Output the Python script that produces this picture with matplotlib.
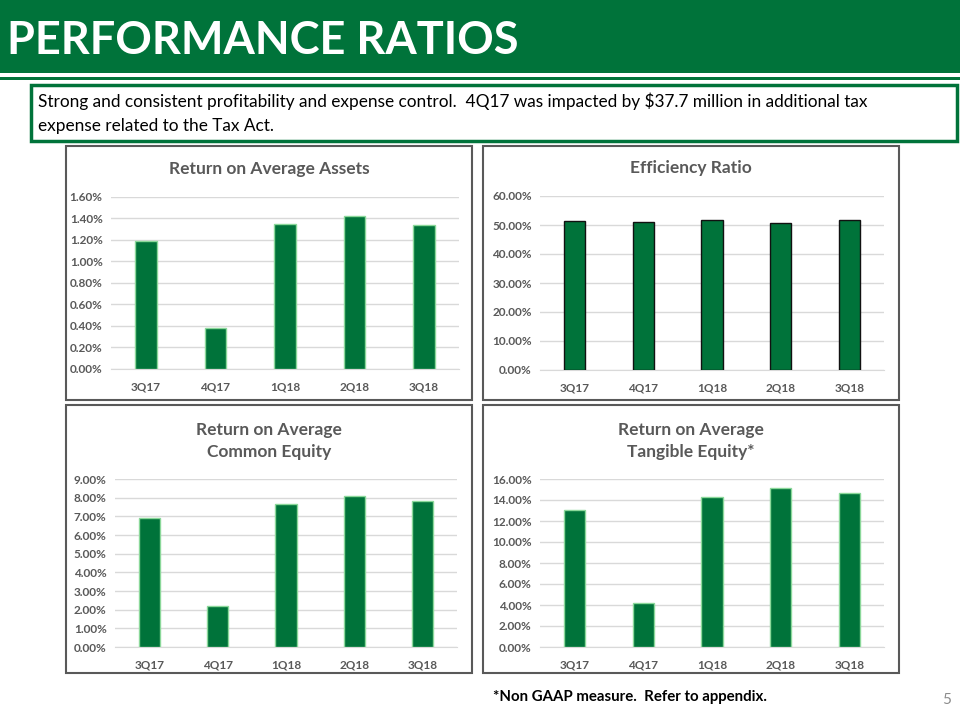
import matplotlib
matplotlib.use("Agg")
import matplotlib.pyplot as plt
from matplotlib.patches import Rectangle
from matplotlib.ticker import FuncFormatter

plt.rcParams['font.family'] = ['Lato', 'DejaVu Sans']

quarters = ["3Q17", "4Q17", "1Q18", "2Q18", "3Q18"]
roa = [1.19, 0.38, 1.35, 1.42, 1.34]
efficiency = [51.3, 51.2, 51.6, 50.6, 51.7]
roe = [6.89, 2.20, 7.68, 8.11, 7.84]
rote = [13.09, 4.18, 14.32, 15.18, 14.70]

GREEN = "#00733A"
GRAY = "#595959"
W, H = 960, 720

fig = plt.figure(figsize=(9.6, 7.2), dpi=100)


def box(l, t, r, b):
    return [l / W, 1 - b / H, (r - l) / W, (b - t) / H]


def frame(l, t, r, b, color, lw, face="none"):
    fig.patches.append(Rectangle((l / W, 1 - b / H), (r - l) / W, (b - t) / H,
                                 transform=fig.transFigure, fill=face != "none",
                                 facecolor=face, edgecolor=color, lw=lw, zorder=0))


# header band
frame(0, 0, 960, 73, "none", 0, face=GREEN)
frame(0, 77, 960, 80, "none", 0, face=GREEN)
fig.text(7 / W, 1 - 41 / H, "PERFORMANCE RATIOS", color="white", fontsize=32.5,
         fontweight="bold", va="center", ha="left")

# summary box
frame(31, 85, 957, 141, GREEN, 2.5)
fig.text(38 / W, 1 - 101 / H,
         "Strong and consistent profitability and expense control.  4Q17 was impacted by $37.7 million in additional tax",
         fontsize=12.4, va="center", ha="left", color="black")
fig.text(38 / W, 1 - 126 / H, "expense related to the Tax Act.",
         fontsize=12.4, va="center", ha="left", color="black")

# panel frames
frame(66, 146, 472, 400, GRAY, 1.5)
frame(483, 146, 899, 400, GRAY, 1.5)
frame(66, 405, 472, 673, GRAY, 1.5)
frame(483, 405, 899, 673, GRAY, 1.5)

panels = [
    (roa, box(111, 197, 459, 369), 1.6, 0.2, 2, "Return on Average Assets", 169, (66, 472), "#8BD89A"),
    (efficiency, box(540, 196, 884, 370), 60, 10, 2, "Efficiency Ratio", 168, (483, 899), "#111111"),
    (roe, box(115, 479, 457, 647), 9, 1, 2, "Return on Average\nCommon Equity", 441, (66, 472), "#8BD89A"),
    (rote, box(540, 479, 884, 647), 16, 2, 2, "Return on Average\nTangible Equity*", 441, (483, 899), "#8BD89A"),
]

for vals, rect, ymax, step, dec, title, ty, (pl, pr), edge in panels:
    ax = fig.add_axes(rect)
    ax.bar(quarters, vals, width=0.31, color=GREEN, edgecolor=edge, lw=1.0, zorder=3)
    ax.set_ylim(0, ymax)
    ax.set_xlim(-0.5, len(quarters) - 0.5)
    ticks = [i * step for i in range(int(round(ymax / step)) + 1)]
    ax.set_yticks(ticks)
    ax.yaxis.set_major_formatter(FuncFormatter(lambda v, p, d=dec: f"{v:.{d}f}%"))
    ax.grid(axis="y", color="#D9D9D9", lw=1.0, zorder=0)
    for s in ["top", "right", "left"]:
        ax.spines[s].set_visible(False)
    ax.spines["bottom"].set_color("#D9D9D9")
    ax.tick_params(axis="both", length=0, labelsize=8.5, labelcolor=GRAY, pad=6)
    ax.tick_params(axis="x", pad=9)
    for lab in ax.get_xticklabels() + ax.get_yticklabels():
        lab.set_fontweight("bold")
    ax.set_facecolor("none")
    fig.text((pl + pr) / 2 / W, 1 - ty / H, title, ha="center", va="center",
             fontsize=12.5, fontweight="bold", color=GRAY, linespacing=1.5)

fig.text(493 / W, 1 - 697 / H, "*Non GAAP measure.  Refer to appendix.",
         fontsize=10.8, fontweight="bold", color="black", va="center", ha="left")
fig.text(947 / W, 1 - 700 / H, "5", fontsize=11, color="#8C8C8C", va="center", ha="center")

fig.savefig("out.png", dpi=100)
